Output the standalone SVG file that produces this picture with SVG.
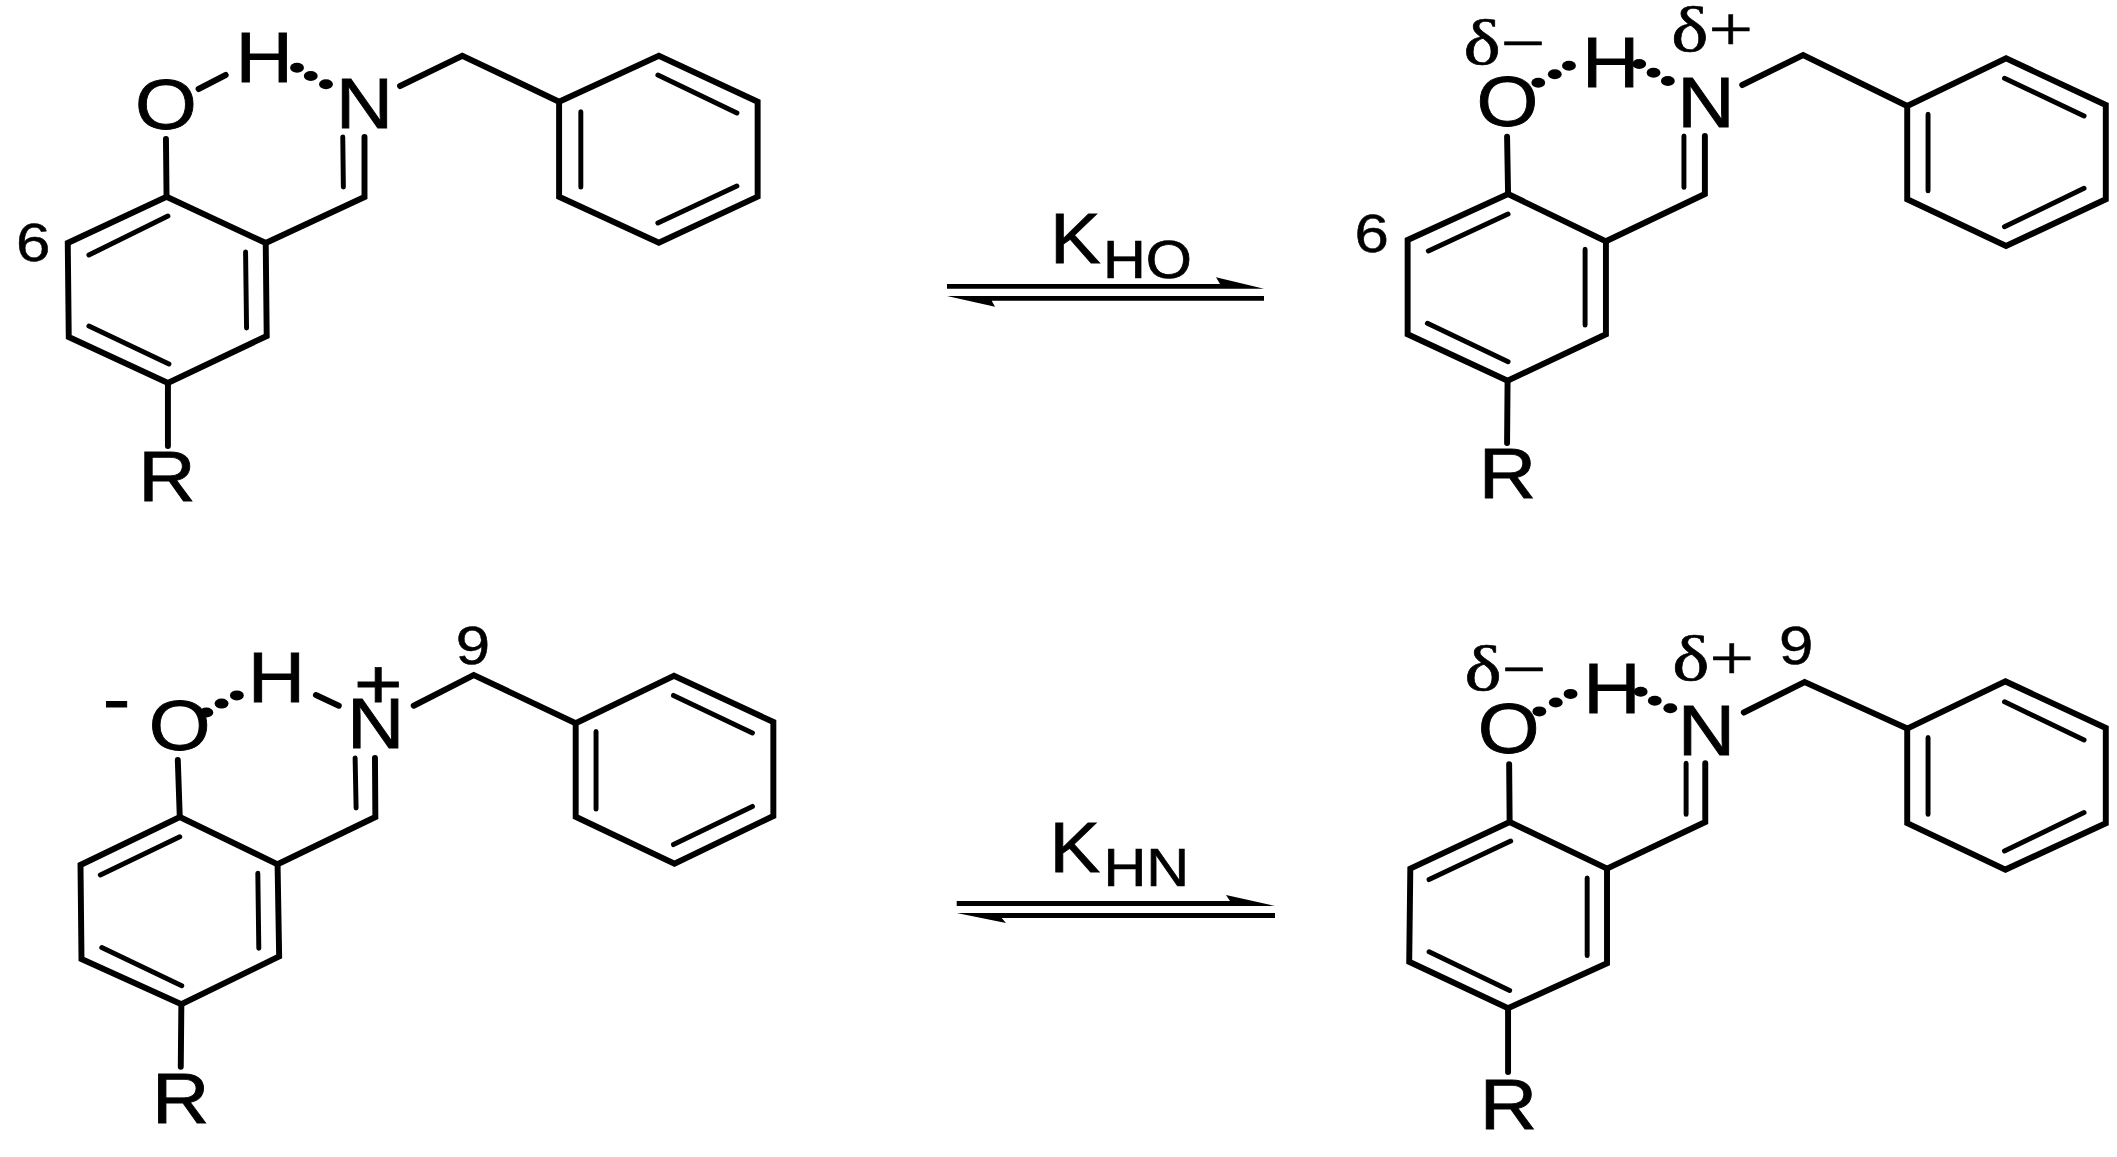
<svg xmlns="http://www.w3.org/2000/svg" width="2117" height="1157" viewBox="0 0 2117 1157">
<style>
.b{fill:none;stroke:#000;stroke-width:6;stroke-linejoin:miter;stroke-linecap:round}
.i{fill:none;stroke:#000;stroke-width:5;stroke-linecap:round}
.d{fill:#000}
.a{font-family:"Liberation Sans",Arial,sans-serif;font-size:70px;fill:#000;stroke:#000;stroke-width:.8;text-anchor:middle}
.n{font-family:"Liberation Sans",Arial,sans-serif;font-size:53px;fill:#000;stroke:#000;stroke-width:.5;text-anchor:middle}
.s{font-family:"Liberation Sans",Arial,sans-serif;font-size:53px;fill:#000;stroke:#000;stroke-width:.7}
.k{font-family:"Liberation Sans",Arial,sans-serif;font-size:71px;fill:#000;stroke:#000;stroke-width:.8}
.g{font-family:"Liberation Serif","Times New Roman",serif;font-size:63px;fill:#000;stroke:#000;stroke-width:.6}
.l{fill:#000}
</style>
<rect width="2117" height="1157" fill="#fff"/>
<g id="mol-top-left" transform="scale(0.9878 1)">
<polygon class="b" points="168.6,196.7 269,243 270,336 170,383 69.6,337 68.6,243"/>
<polygon class="b" points="566,101.7 667,55.7 767,101.7 767,196.7 667,242.7 566,196.7"/>
<path class="b" d="M168,139L168.6,197M170,383V446M269,243L369,197V137M405,86L468,55.7L566,101.7M201,89L228.5,75"/>
<path class="i" d="M90,255L170,216M248.6,252L249.6,328M90,326L171,364M347,137L347.6,187M588,111.7V187M666,75L746,113M666,223L746,186"/>
<ellipse class="d" cx="300.7" cy="67.7" rx="7" ry="5"/><ellipse class="d" cx="314.6" cy="76" rx="7" ry="5"/><ellipse class="d" cx="330" cy="84.3" rx="7" ry="5"/>
<text class="a" transform="matrix(1.15 0 0 1 168 129)">O</text>
<text class="a" transform="matrix(1.15 0 0 1 267.5 82)">H</text>
<text class="a" transform="matrix(1.15 0 0 1 369 128)">N</text>
<text class="a" transform="matrix(1.15 0 0 1 169 501)">R</text>
<text class="n" transform="matrix(1.18 0 0 1 33.5 260.5)">6</text>
</g>
<g id="mol-top-right" transform="translate(1300 0) scale(0.9875 1) translate(-1300 0)">
<polygon class="b" points="1510.7,194 1609.8,241.3 1609.8,334.3 1510.2,380.7 1409,334.3 1409,240"/>
<polygon class="b" points="1914.9,106 2015,58.3 2116,105 2116,199.3 2015,246 1914.9,199.3"/>
<path class="b" d="M1509.7,136.7L1510.7,194M1510.2,380.7L1509.7,443M1609.8,241.3L1710,194V136M1747.8,85L1809.5,55L1914.9,106"/>
<path class="i" d="M1430,251L1510.7,214M1588.7,249.3V325M1429,323.3L1510.7,361.7M1688.8,136V187.3M1936,114.3V190.7M2013.4,78.3L2094,116M2013.4,226.7L2094,188.3"/>
<ellipse class="d" cx="1541.3" cy="82.7" rx="7" ry="5"/><ellipse class="d" cx="1558" cy="74.3" rx="7" ry="5"/><ellipse class="d" cx="1572.4" cy="65.7" rx="7" ry="5"/>
<ellipse class="d" cx="1643.5" cy="64" rx="7" ry="5"/><ellipse class="d" cx="1658" cy="72.7" rx="7" ry="5"/><ellipse class="d" cx="1672.5" cy="81" rx="7" ry="5"/>
<text class="a" transform="matrix(1.15 0 0 1 1510 126)">O</text>
<text class="a" transform="matrix(1.15 0 0 1 1614.7 86.5)">H</text>
<text class="a" transform="matrix(1.15 0 0 1 1711 127.3)">N</text>
<text class="a" transform="matrix(1.15 0 0 1 1510 498.3)">R</text>
<text class="n" transform="matrix(1.18 0 0 1 1372.5 251.5)">6</text>
<text class="g" transform="matrix(1.27 0 0 1 1465.5 64)">δ−</text>
<text class="g" transform="matrix(1.27 0 0 1 1676 51)">δ+</text>
</g>
<g id="mol-bottom-left" transform="scale(0.9878 1)">
<polygon class="b" points="182,817 281,864.3 282.6,956.4 183.6,1004.3 82.5,959 81.5,865"/>
<polygon class="b" points="582.8,723.2 682.3,675.7 782.9,722 782.9,816 682.8,863.6 582.8,816.8"/>
<path class="b" d="M180,760L182,817M183.6,1004.3L183,1066.8M281,864.3L380,817L379.6,757.9M418.8,705.7L479.6,675L582.8,723.2M319.8,695L343,705.7"/>
<path class="i" d="M101.6,875L182,836.8M261,873.2L262,948.2M103,947.5L184,985.7M359.5,757.9L360.5,807.9M603.4,731.4V809M681.8,695.4L761.7,732.9M681.8,844.6L761.7,806.4"/>
<ellipse class="d" cx="208.9" cy="712.5" rx="7" ry="5"/><ellipse class="d" cx="224.3" cy="703.6" rx="7" ry="5"/><ellipse class="d" cx="239.8" cy="695.4" rx="7" ry="5"/>
<text class="a" transform="matrix(1.15 0 0 1 181.8 749.5)">O</text>
<text class="a" transform="matrix(1.15 0 0 1 279.8 702)">H</text>
<text class="a" transform="matrix(1.15 0 0 1 380.4 748.2)">N</text>
<text class="a" transform="matrix(1.15 0 0 1 183 1123.2)">R</text>
<text class="a" transform="matrix(1.2 0 0 1 118 723)">-</text>
<text class="a" transform="matrix(1.2 0 0 1 383 708.4)">+</text>
<text class="n" transform="matrix(1.18 0 0 1 478.7 663.5)">9</text>
</g>
<g id="mol-bottom-right" transform="translate(1300 0) scale(0.9875 1) translate(-1300 0)">
<polygon class="b" points="1512.3,822 1610.9,868.6 1610.9,963.2 1510.7,1008.2 1410.6,961.8 1411.7,868.6"/>
<polygon class="b" points="1914.9,728.6 2014.4,681.4 2116,727.9 2116,823.2 2014.4,869.6 1914.9,823.2"/>
<path class="b" d="M1511.8,764.3L1512.3,822M1510.7,1008.2V1072M1610.9,868.6L1710.4,822V763.2M1749.4,712.5L1811,682L1914.9,728.6"/>
<path class="i" d="M1430.7,879.6L1513.4,841M1590.8,877.9V955.4M1430.7,951.8L1512.3,990.4M1691,763.2V814.3M1936,737.5V814.3M2013.4,701.8L2094,740M2013.4,851L2094,812.5"/>
<ellipse class="d" cx="1542.4" cy="711.4" rx="7" ry="5"/><ellipse class="d" cx="1559" cy="702.5" rx="7" ry="5"/><ellipse class="d" cx="1574" cy="693.9" rx="7" ry="5"/>
<ellipse class="d" cx="1645" cy="691.8" rx="7" ry="5"/><ellipse class="d" cx="1659.3" cy="700.7" rx="7" ry="5"/><ellipse class="d" cx="1675" cy="708.2" rx="7" ry="5"/>
<text class="a" transform="matrix(1.15 0 0 1 1511.2 753)">O</text>
<text class="a" transform="matrix(1.15 0 0 1 1616 713)">H</text>
<text class="a" transform="matrix(1.15 0 0 1 1711.7 754.6)">N</text>
<text class="a" transform="matrix(1.15 0 0 1 1511 1128.6)">R</text>
<text class="n" transform="matrix(1.18 0 0 1 1802.4 663.5)">9</text>
<text class="g" transform="matrix(1.27 0 0 1 1466.5 690)">δ−</text>
<text class="g" transform="matrix(1.27 0 0 1 1677 680)">δ+</text>
</g>
<g id="connectors">
<g id="arrow-kho">
<path class="l" d="M947,284H1220L1216,277.3L1264,288.7H947Z"/>
<path class="l" d="M947,296L995,306.7L991.7,300.7H1264V296Z"/>
</g>
<g id="arrow-khn">
<path class="l" d="M956.7,901H1230L1226,895L1275,906H956.7Z"/>
<path class="l" d="M956.7,913L1006,923L1001.7,918H1275V913Z"/>
</g>
</g>
<g id="label-kho">
<text class="k" transform="matrix(1.07 0 0 1 1050 263.3)">K</text>
<text class="s" transform="matrix(1.12 0 0 1 1103 278.3)">HO</text>
</g>
<g id="label-khn">
<text class="k" transform="matrix(1.07 0 0 1 1049.5 871.7)">K</text>
<text class="s" transform="matrix(1.12 0 0 1 1103.5 885.7)">HN</text>
</g>
</svg>
